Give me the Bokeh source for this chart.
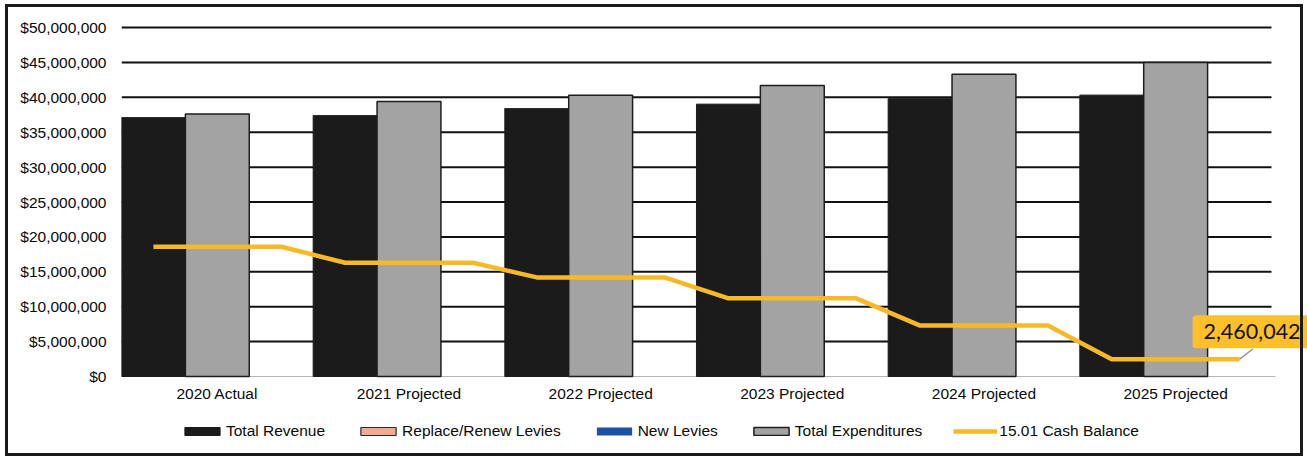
from bokeh.plotting import figure
from bokeh.models import (ColumnDataSource, Range1d, FixedTicker, NumeralTickFormatter,
                          Legend, LegendItem, Label)
from bokeh.core.properties import value
from bokeh.embed import file_html
from bokeh.resources import INLINE

categories = ["2020 Actual", "2021 Projected", "2022 Projected",
              "2023 Projected", "2024 Projected", "2025 Projected"]
total_revenue = [37100000, 37400000, 38400000, 39000000, 39800000, 40300000]
replace_renew_levies = [0, 0, 0, 0, 0, 0]
new_levies = [0, 0, 0, 0, 0, 0]
total_expenditures = [37600000, 39400000, 40300000, 41700000, 43300000, 45000000]
cash_balance = [18600000, 16300000, 14200000, 11200000, 7300000, 2460042]
y_ticks = [0, 5000000, 10000000, 15000000, 20000000, 25000000,
           30000000, 35000000, 40000000, 45000000, 50000000]

n = len(categories)
idx = list(range(n))
slot = 1.0 / 3.0

bars = ColumnDataSource(dict(
    xr=[i - slot for i in idx],
    xe=idx,
    rev=total_revenue,
    rr_top=[r + a for r, a in zip(total_revenue, replace_renew_levies)],
    nl_top=[r + a + b for r, a, b in zip(total_revenue, replace_renew_levies, new_levies)],
    exp=total_expenditures,
))

line_x, line_y = [], []
for i, v in zip(idx, cash_balance):
    line_x += [i - slot, i + slot]
    line_y += [v, v]

# The frame covers the canvas below and right of the value axis, so that the
# legend and the data label (drawn outside the category area) are not clipped.
Y_TOP = 50300000
Y_BOTTOM = -Y_TOP * 81 / 351
p = figure(width=1307, height=457, output_backend="svg", toolbar_location=None,
           x_range=Range1d(-0.5, n - 0.5 + 0.188), y_range=Range1d(Y_BOTTOM, Y_TOP),
           x_axis_location=None,
           min_border_left=121, min_border_right=0, min_border_top=25,
           min_border_bottom=0, outline_line_color=None,
           background_fill_color="white", border_fill_color="white")

p.stylesheets = [":host::after { content: ''; position: absolute; left: 5px; top: 4px; "
                 "width: 1298px; height: 452px; border: 3px solid #1a1a1a; "
                 "box-sizing: border-box; pointer-events: none; }"]

p.xgrid.visible = False
p.ygrid.visible = False
grid_y = y_ticks[1:]
p.segment(x0=[-0.5] * len(grid_y), x1=[n - 0.5] * len(grid_y), y0=grid_y, y1=grid_y,
          line_color="#111111", line_width=2, level="underlay")
# category baseline
p.segment(x0=[-0.5], x1=[n - 0.5 + 0.02], y0=[0], y1=[0],
          line_color="#b5b5b5", line_width=1, level="underlay")

r_rev = p.vbar(x="xr", top="rev", bottom=0, width=slot, source=bars,
               fill_color="#1b1b1b", line_color="#1b1b1b", line_width=1)
r_rr = p.vbar(x="xr", top="rr_top", bottom="rev", width=slot, source=bars,
              fill_color="#F2AA90", line_color="#2a2a2a", line_width=1.2)
r_nl = p.vbar(x="xr", top="nl_top", bottom="rr_top", width=slot, source=bars,
              fill_color="#1A52A8", line_color=None)
r_exp = p.vbar(x="xe", top="exp", bottom=0, width=slot, source=bars,
               fill_color="#a3a3a3", line_color="#1e1e1e", line_width=1.5)
r_cash = p.line(line_x, line_y, line_color="#F8B928", line_width=4.5)

# category labels under the baseline
p.text(x=idx, y=[0] * n, text=categories, y_offset=8,
       text_font=value("Liberation Sans"), text_font_size="15.5px",
       text_color="#0a0a0a", text_align="center", text_baseline="top")

# leader line + data label for the last cash value
x_last = line_x[-1]
y_last = line_y[-1]
p.line([x_last, x_last + 0.07], [y_last, y_last + 1500000], line_color="#808080", line_width=1.2)
lbl = Label(x=x_last, y=y_last, x_offset=-47, y_offset=11,
            text=f"{cash_balance[-1]:,}", text_font="Lato", text_font_size="21.5px",
            text_color="#111111", text_align="left", text_baseline="bottom",
            background_fill_color="#FDBF2C", padding=(11, 9), border_radius=3)
p.add_layout(lbl)

# value axis
p.yaxis.ticker = FixedTicker(ticks=y_ticks)
p.yaxis.formatter = NumeralTickFormatter(format="$0,0")
p.yaxis.axis_line_color = None
p.yaxis.major_tick_line_color = None
p.yaxis.minor_tick_line_color = None
p.yaxis.major_label_standoff = 9
p.yaxis.major_label_text_font = "Liberation Sans"
p.yaxis.major_label_text_font_size = "15.5px"
p.yaxis.major_label_text_color = "#0a0a0a"

legend = Legend(items=[
    LegendItem(label="Total Revenue", renderers=[r_rev]),
    LegendItem(label="Replace/Renew Levies", renderers=[r_rr]),
    LegendItem(label="New Levies", renderers=[r_nl]),
    LegendItem(label="Total Expenditures", renderers=[r_exp]),
    LegendItem(label="15.01 Cash Balance", renderers=[r_cash]),
], location=(59, 17), orientation="horizontal", glyph_width=44, glyph_height=10,
    label_standoff=2, spacing=31, padding=0, margin=0, border_line_alpha=0,
    background_fill_alpha=0, label_text_font="Liberation Sans",
    label_text_font_size="15.5px", label_text_color="#0a0a0a", label_height=18)
p.add_layout(legend)

open("out.html", "w").write(file_html(p, INLINE))
